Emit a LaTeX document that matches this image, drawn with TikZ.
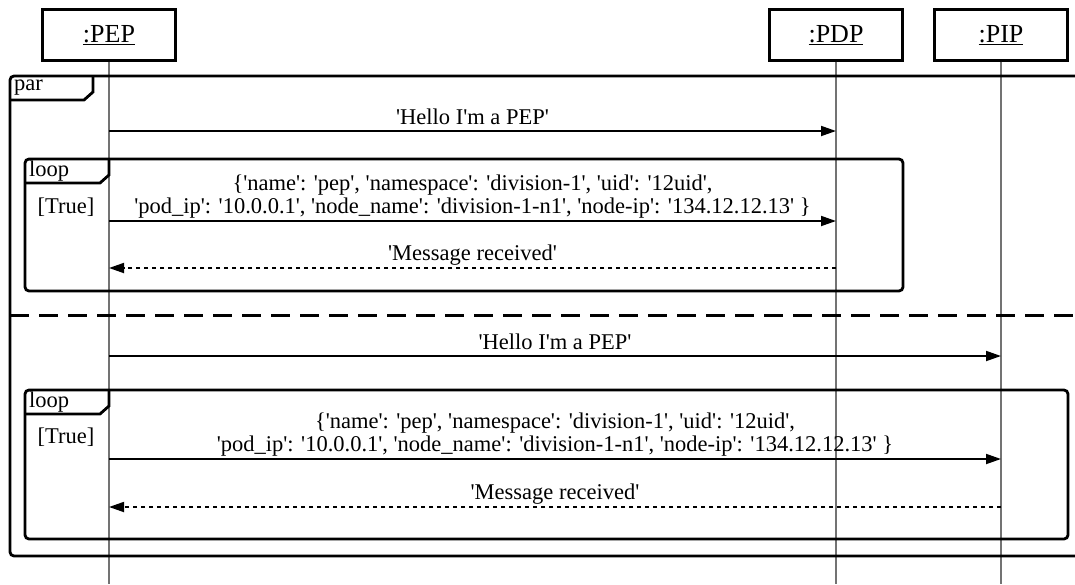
\documentclass[tikz,border=0pt]{standalone}
\usepackage{fontspec}
\setmainfont{Liberation Serif}[Ligatures=TeXOff]
\usetikzlibrary{arrows.meta}

\begin{document}
\begin{tikzpicture}[x=1pt,y=-1pt,
		actor/.style={draw,line width=2.4pt,minimum width=133pt,minimum height=51pt,font=\fontsize{26}{30}\selectfont},
		lifeline/.style={draw=gray!90!black,line width=1.6pt},
		frame/.style={line width=2.8pt,rounded corners=4pt},
		tag/.style={line width=2.8pt},
		msg/.style={-{Triangle[length=15pt,width=10pt]},line width=1.8pt},
		reply/.style={msg,dash pattern=on 4pt off 4pt},
		lbl/.style={font=\fontsize{22.5}{23}\selectfont,align=center,inner sep=2pt}]

		\useasboundingbox (0,0) rectangle (1075,584);

		% participants
		\node[actor] (pep) at (109,35) {\underline{:PEP}};
		\node[actor] (pdp) at (836,35) {\underline{:PDP}};
		\node[actor] (pip) at (1001,35) {\underline{:PIP}};

		\coordinate (pepEnd) at (109,584);
		\coordinate (pdpEnd) at (836,584);
		\coordinate (pipEnd) at (1001,584);

		\draw[lifeline] (pep) -- (pepEnd);
		\draw[lifeline] (pdp) -- (pdpEnd);
		\draw[lifeline] (pip) -- (pipEnd);

		% par frame
		\draw[frame] (1075,76) -- (10,76) -- (10,556) -- (1075,556);
		\draw[tag] (10,100) -- (84,100) -- (93,92) -- (93,76);
		\node[lbl,anchor=west] (par) at (12,88) {par};
		\draw[tag,line width=3pt,dash pattern=on 19pt off 10pt] (10,315) -- (1075,315);

		% loop frames
		\draw[frame] (25,159) rectangle (903,291);
		\draw[tag] (25,183) -- (100,183) -- (109,175) -- (109,159);
		\node[lbl,anchor=west] (loopA) at (27,171) {loop};
		\node[lbl] (condA) at (66,207) {[True]};

		\draw[frame] (25,390) rectangle (1068,539);
		\draw[tag] (25,414) -- (100,414) -- (109,406) -- (109,390);
		\node[lbl,anchor=west] (loopB) at (27,402) {loop};
		\node[lbl] (condB) at (66,437) {[True]};

		% messages
		\coordinate (a1) at (109,131);
		\coordinate (b1) at (836,131);
		\coordinate (a2) at (109,221);
		\coordinate (b2) at (836,221);
		\coordinate (a3) at (109,268);
		\coordinate (b3) at (836,268);
		\coordinate (a4) at (109,356);
		\coordinate (c4) at (1001,356);
		\coordinate (a5) at (109,459);
		\coordinate (c5) at (1001,459);
		\coordinate (a6) at (109,507);
		\coordinate (c6) at (1001,507);

		\draw[msg] (a1) -- node[lbl,above=3pt] {'Hello I'm a PEP'} (b1);
		\draw[msg] (a2) -- node[lbl,above] {\{'name': 'pep', 'namespace': 'division-1', 'uid': '12uid',\\'pod\_ip': '10.0.0.1', 'node\_name': 'division-1-n1', 'node-ip': '134.12.12.13' \}} (b2);
		\draw[reply] (b3) -- node[lbl,above] {'Message received'} (a3);

		\draw[msg] (a4) -- node[lbl,above=3pt] {'Hello I'm a PEP'} (c4);
		\draw[msg] (a5) -- node[lbl,above] {\{'name': 'pep', 'namespace': 'division-1', 'uid': '12uid',\\'pod\_ip': '10.0.0.1', 'node\_name': 'division-1-n1', 'node-ip': '134.12.12.13' \}} (c5);
		\draw[reply] (c6) -- node[lbl,above] {'Message received'} (a6);

	\end{tikzpicture}
\end{document}
